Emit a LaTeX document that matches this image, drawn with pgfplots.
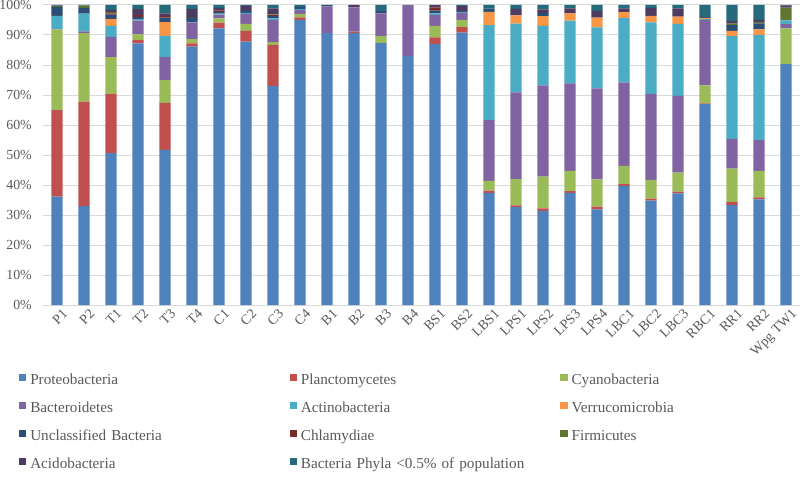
\documentclass[border=0pt]{standalone}
\usepackage{fontspec}
\setmainfont{Liberation Serif}
\usepackage{pgfplots}
\usepackage{pgfplotstable}
\pgfplotsset{compat=1.18}
\definecolor{c1}{HTML}{4F81BD}
\definecolor{c2}{HTML}{C0504D}
\definecolor{c3}{HTML}{9BBB59}
\definecolor{c4}{HTML}{8064A2}
\definecolor{c5}{HTML}{4BACC6}
\definecolor{c6}{HTML}{F79646}
\definecolor{c7}{HTML}{2C4D75}
\definecolor{c8}{HTML}{772C2A}
\definecolor{c9}{HTML}{5F7530}
\definecolor{c10}{HTML}{4D3B62}
\definecolor{c11}{HTML}{276A7C}
\definecolor{txt}{HTML}{595959}
\definecolor{grd}{HTML}{D9D9D9}
\pgfplotstableread{
x  pro  pla  cya  bac  act  ver  unc  chl  fir  aci  oth
0  36.1 28.9 26.9 0.1  4.3  0.1  3.0  0    0.3  0.1  0.2
1  33.0 34.8 22.8 0.6  5.9  0    1.9  0    0.8  0    0.2
2  50.6 19.7 12.3 6.8  3.6  2.3  1.5  0.4  0.4  0.8  1.6
3  87.2 1.1  1.9  4.6  0.3  0    0.9  0.6  0    2.0  1.4
4  51.7 15.7 7.6  7.6  7.1  4.6  1.5  0.6  0    0.8  2.8
5  86.1 1.1  1.4  5.6  0.1  0    1.7  0.4  0    2.2  1.4
6  92.2 1.9  1.4  1.3  0.3  0    0.5  0.5  0    0.9  1.0
7  87.8 3.6  2.3  3.3  0.4  0    0.6  0    0    1.7  0.3
8  73.0 13.7 0.9  7.4  0.5  0    0.8  0.3  0.3  2.0  1.1
9  95.0 0.9  1.1  1.3  0.3  0    0.8  0    0    0    0.6
10 90.6 0    0    8.9  0    0    0.5  0    0    0    0
11 90.6 0.5  0    8.1  0    0    0    0    0    0.8  0
12 87.4 0    2.2  7.6  0    0    0.8  0    0    0    2.0
13 83.0 0    0    17.0 0    0    0    0    0    0    0
14 87.0 2.2  3.8  3.7  0.5  0    0.9  1.1  0    0.8  0
15 90.8 1.8  2.4  2.4  0.3  0    0    0    0    1.9  0.4
16 37.4 0.7  3.3  20.2 31.7 4.4  1.1  0    0    0    1.2
17 32.6 0.6  8.8  28.9 22.9 2.7  0    0    0    2.2  1.3
18 31.4 0.8  10.6 30.4 19.8 3.3  1.1  0    0    1.1  1.5
19 37.4 0.6  6.7  29.2 20.9 2.4  0    0    0    1.7  1.1
20 31.9 0.9  9.1  30.3 20.3 3.3  0    0    0    2.2  2.0
21 39.7 0.6  6.1  27.8 21.4 2.0  0    0    0    1.3  1.1
22 34.8 0.7  6.2  28.7 23.8 2.2  0    0    0    2.6  1.0
23 37.2 0.6  6.3  25.6 24.0 2.4  0    0    0    2.8  1.1
24 67.0 0.2  6.0  21.8 0.3  0.4  0.3  0    0    0    4.0
25 33.3 1.1  11.1 9.8  34.3 1.8  1.9  0    0.5  0.9  5.3
26 35.2 0.7  8.8  10.3 35.0 1.9  2.0  0    0.5  0.6  5.0
27 80.3 0    11.9 1.4  1.3  0    0    0    4.2  0.8  0.1
}\data
\begin{document}
\begin{tikzpicture}
\path[use as bounding box] (-32.625pt,-141pt) rectangle (567.375pt,228.75pt);
\begin{axis}[
  at={(0pt,0pt)}, anchor=south west,
  scale only axis, width=567pt, height=225pt,
  ybar stacked, bar width=0.41,
  xmin=-0.5, xmax=27.5, ymin=0, ymax=100,
  enlargelimits=false,
  axis line style={draw=none},
  major tick length=0pt,
  ytick={0,10,...,100},
  yticklabel={\pgfmathprintnumber{\tick}\%},
  ymajorgrids, grid style={grd, line width=0.75pt},
  xtick={0,...,27},
  xticklabels={P1,P2,T1,T2,T3,T4,C1,C2,C3,C4,B1,B2,B3,B4,BS1,BS2,LBS1,LPS1,LPS2,LPS3,LPS4,LBC1,LBC2,LBC3,RBC1,RR1,RR2,Wpg TW1},
  /pgf/number format/assume math mode=true,
  every tick label/.append style={font=\fontsize{10.4pt}{12pt}\selectfont, text=txt},
  y tick label style={anchor=east, inner sep=0pt, xshift=-8.6pt},
  x tick label style={rotate=45, anchor=north east, inner sep=0pt, xshift=1pt, yshift=-4pt},
  legend columns=3,
  legend image code/.code={\fill[#1,/tikz/.cd] (0pt,-0.2pt) rectangle (5.5pt,5.3pt);},
  legend style={at={(-0.0325,-0.229)}, anchor=north west, draw=none, fill=none,
    inner sep=0pt, outer sep=0pt,
    font=\fontsize{11.4pt}{13pt}\selectfont, text=txt,
    row sep=10.5pt,
    nodes={inner sep=0pt, text height=8pt, text depth=2.5pt, text width=194.5pt, align=left},
    /tikz/every odd column/.append style={column sep=3pt},
    /tikz/every even column/.append style={column sep=0pt}},
  legend cell align=left,
]
\addplot[fill=c1, draw=none] table[x=x, y=pro] {\data};
\addplot[fill=c2, draw=none] table[x=x, y=pla] {\data};
\addplot[fill=c3, draw=none] table[x=x, y=cya] {\data};
\addplot[fill=c4, draw=none] table[x=x, y=bac] {\data};
\addplot[fill=c5, draw=none] table[x=x, y=act] {\data};
\addplot[fill=c6, draw=none] table[x=x, y=ver] {\data};
\addplot[fill=c7, draw=none] table[x=x, y=unc] {\data};
\addplot[fill=c8, draw=none] table[x=x, y=chl] {\data};
\addplot[fill=c9, draw=none] table[x=x, y=fir] {\data};
\addplot[fill=c10, draw=none] table[x=x, y=aci] {\data};
\addplot[fill=c11, draw=none] table[x=x, y=oth] {\data};
\legend{Proteobacteria, Planctomycetes, Cyanobacteria, Bacteroidetes, Actinobacteria, Verrucomicrobia, Unclassified Bacteria, Chlamydiae, Firmicutes, Acidobacteria, Bacteria Phyla <0.5\% of population}
\end{axis}
\end{tikzpicture}
\end{document}
